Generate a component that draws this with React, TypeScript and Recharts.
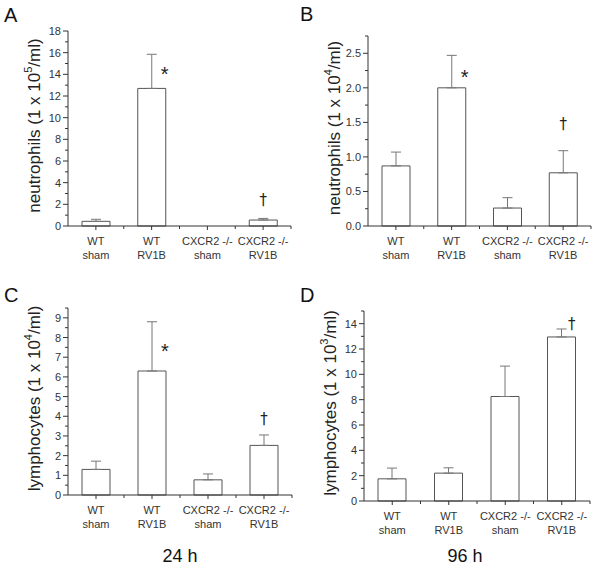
import { ComposedChart, Bar, XAxis, YAxis, ErrorBar, Scatter } from "recharts";

const GROUPS = ["WT|sham", "WT|RV1B", "CXCR2 -/-|sham", "CXCR2 -/-|RV1B"];

// A - neutrophils, 24 h (1 x 10^5/ml)
const NEUT24_MEAN = [0.43, 12.7, 0, 0.55];
const NEUT24_TOP = [0.62, 15.85, 0, 0.7];
const NEUT24_MARK = ["", "*", "", "†"];
const NEUT24_MARK_Y = [null, 14.4, null, 2.4];
const NEUT24_TICKS = [0, 2, 4, 6, 8, 10, 12, 14, 16, 18];
const NEUT24_MINOR = [1, 3, 5, 7, 9, 11, 13, 15, 17];

// B - neutrophils, 96 h (1 x 10^4/ml)
const NEUT96_MEAN = [0.87, 2.0, 0.26, 0.77];
const NEUT96_TOP = [1.07, 2.47, 0.41, 1.09];
const NEUT96_MARK = ["", "*", "", "†"];
const NEUT96_MARK_Y = [null, 2.21, null, 1.47];
const NEUT96_TICKS = [0, 0.5, 1.0, 1.5, 2.0, 2.5];
const NEUT96_MINOR = [0.25, 0.75, 1.25, 1.75, 2.25, 2.75];

// C - lymphocytes, 24 h (1 x 10^4/ml)
const LYMPH24_MEAN = [1.3, 6.3, 0.77, 2.52];
const LYMPH24_TOP = [1.72, 8.8, 1.07, 3.05];
const LYMPH24_MARK = ["", "*", "", "†"];
const LYMPH24_MARK_Y = [null, 7.5, null, 3.85];
const LYMPH24_TICKS = [0, 1, 2, 3, 4, 5, 6, 7, 8, 9];
const LYMPH24_MINOR = [0.5, 1.5, 2.5, 3.5, 4.5, 5.5, 6.5, 7.5, 8.5, 9.5];

// D - lymphocytes, 96 h (1 x 10^3/ml)
const LYMPH96_MEAN = [1.75, 2.2, 8.25, 12.95];
const LYMPH96_TOP = [2.6, 2.62, 10.65, 13.58];
const LYMPH96_MARK = ["", "", "", "†"];
const LYMPH96_MARK_Y = [null, null, null, 14.0];
const LYMPH96_TICKS = [0, 2, 4, 6, 8, 10, 12, 14];
const LYMPH96_MINOR = [1, 3, 5, 7, 9, 11, 13, 15];

const FONT = "Arial, 'Liberation Sans', Helvetica, sans-serif";
const AXIS = "#333";
const BAR_STROKE = "#555";
const ERR_STROKE = "#777";

function buildRows(mean: number[], top: number[], mark: string[], markY: (number | null)[]) {
  return GROUPS.map((g, i) => ({
    group: g,
    mean: mean[i],
    err: [0, top[i] - mean[i]],
    mark: mark[i],
    markY: markY[i],
  }));
}

const panels = [
  {
    letter: "A", left: 0, top: 0, h: 290, plot: { l: 68, r: 291, t: 31, b: 226 },
    domain: [0, 18], ticks: NEUT24_TICKS, minor: NEUT24_MINOR, fmt: (v: number) => String(v),
    label: "neutrophils (1 x 10", sup: "5", rows: buildRows(NEUT24_MEAN, NEUT24_TOP, NEUT24_MARK, NEUT24_MARK_Y), daggerDx: 0,
  },
  {
    letter: "B", left: 300, top: 0, h: 290, plot: { l: 68, r: 291, t: 36, b: 226 },
    domain: [0, 2.75], ticks: NEUT96_TICKS, minor: NEUT96_MINOR, fmt: (v: number) => v.toFixed(1),
    label: "neutrophils (1 x 10", sup: "4", rows: buildRows(NEUT96_MEAN, NEUT96_TOP, NEUT96_MARK, NEUT96_MARK_Y), daggerDx: 0,
  },
  {
    letter: "C", left: 0, top: 290, h: 279, plot: { l: 68, r: 292, t: 18, b: 205 },
    domain: [0, 9.5], ticks: LYMPH24_TICKS, minor: LYMPH24_MINOR, fmt: (v: number) => String(v),
    label: "lymphocytes (1 x 10", sup: "4", rows: buildRows(LYMPH24_MEAN, LYMPH24_TOP, LYMPH24_MARK, LYMPH24_MARK_Y), daggerDx: 0,
  },
  {
    letter: "D", left: 300, top: 290, h: 279, plot: { l: 64, r: 290, t: 21, b: 211 },
    domain: [0, 15], ticks: LYMPH96_TICKS, minor: LYMPH96_MINOR, fmt: (v: number) => String(v),
    label: "lymphocytes (1 x 10", sup: "3", rows: buildRows(LYMPH96_MEAN, LYMPH96_TOP, LYMPH96_MARK, LYMPH96_MARK_Y), daggerDx: 10,
  },
];

const XTick = (props: any) => {
  const { x, y, payload, bw } = props;
  const [l1, l2] = String(payload.value).split("|");
  return (
    <g>
      <line x1={x} x2={x} y1={y} y2={y + 4} stroke={AXIS} />
      <line x1={x + bw / 2} x2={x + bw / 2} y1={y} y2={y + 3} stroke={AXIS} />
      <text x={x} y={y + 19} textAnchor="middle" fontSize={11} fill="#333" fontFamily={FONT}>
        <tspan x={x}>{l1}</tspan>
        <tspan x={x} dy={14}>{l2}</tspan>
      </text>
    </g>
  );
};

const YTick = (props: any) => {
  const { x, y, payload, majors, fmt } = props;
  const isMajor = majors.includes(payload.value);
  return (
    <g>
      <line x1={x - (isMajor ? 5 : 3)} x2={x} y1={y} y2={y} stroke={AXIS} />
      {isMajor && (
        <text x={x - 7} y={y + 4} textAnchor="end" fontSize={11} fill="#333" fontFamily={FONT}>
          {fmt(payload.value)}
        </text>
      )}
    </g>
  );
};

const MarkShape = (props: any) => {
  const { cx, cy, payload, daggerDx } = props;
  if (!payload || !payload.mark || cy == null || isNaN(cy)) return <g />;
  if (payload.mark === "*") {
    return (
      <text x={cx + 13} y={cy + 11} textAnchor="middle" fontSize={20} fill="#222" fontFamily={FONT}>
        *
      </text>
    );
  }
  return (
    <text x={cx + daggerDx} y={cy + 5} textAnchor="middle" fontSize={15} fill="#222" fontFamily="'DejaVu Sans', sans-serif">
      †
    </text>
  );
};

function Panel({ p }: { p: (typeof panels)[number] }) {
  const W = 300;
  const yAxisW = 30;
  const xAxisH = 40;
  const bw = (p.plot.r - p.plot.l) / GROUPS.length;
  const allTicks = [...p.ticks, ...p.minor].sort((a, b) => a - b);
  return (
    <div style={{ position: "absolute", left: p.left, top: p.top, width: W, height: p.h }}>
      <ComposedChart
        width={W}
        height={p.h}
        data={p.rows}
        margin={{ top: p.plot.t, right: W - p.plot.r, bottom: p.h - p.plot.b - xAxisH, left: p.plot.l - yAxisW }}
      >
        <XAxis
          dataKey="group"
          height={xAxisH}
          tickSize={0}
          tickMargin={0}
          tickLine={false}
          interval={0}
          stroke={AXIS}
          tick={(t: any) => <XTick {...t} bw={bw} />}
        />
        <YAxis
          width={yAxisW}
          type="number"
          domain={p.domain}
          ticks={allTicks}
          interval={0}
          tickSize={0}
          tickMargin={0}
          tickLine={false}
          stroke={AXIS}
          tick={(t: any) => <YTick {...t} majors={p.ticks} fmt={p.fmt} />}
          label={{
            content: (lp: any) => {
              const vb = lp.viewBox || {};
              const cx = vb.x + vb.width - 28;
              const cy = vb.y + vb.height / 2 - 3;
              return (
                <text
                  x={cx}
                  y={cy}
                  transform={`rotate(-90, ${cx}, ${cy})`}
                  textAnchor="middle"
                  fontSize={17}
                  fill="#222"
                  fontFamily={FONT}
                >
                  {p.label}
                  <tspan dy={-8} fontSize={11}>{p.sup}</tspan>
                  <tspan dy={8}>/ml)</tspan>
                </text>
              );
            },
          }}
        />
        <Bar dataKey="mean" fill="#fff" stroke={BAR_STROKE} strokeWidth={1} barSize={Math.round(bw / 2)} isAnimationActive={false}>
          <ErrorBar dataKey="err" width={5} stroke={ERR_STROKE} strokeWidth={1} direction="y" isAnimationActive={false} />
        </Bar>
        <Scatter
          dataKey="markY"
          isAnimationActive={false}
          shape={(s: any) => <MarkShape {...s} daggerDx={p.daggerDx} />}
        />
      </ComposedChart>
    </div>
  );
}

export default function App() {
  return (
    <div
      style={{
        position: "absolute",
        left: 0,
        top: 0,
        width: 600,
        height: 569,
        background: "#fff",
        fontFamily: FONT,
        overflow: "hidden",
      }}
    >
      {panels.map((p) => (
        <Panel key={p.letter} p={p} />
      ))}
      <svg width={600} height={569} style={{ position: "absolute", left: 0, top: 0, pointerEvents: "none" }}>
        <g fontFamily={FONT} fill="#111">
          <text x={4} y={22} fontSize={20}>A</text>
          <text x={300} y={21} fontSize={20}>B</text>
          <text x={4} y={302} fontSize={20}>C</text>
          <text x={300} y={302} fontSize={20}>D</text>
          <text x={180} y={562} fontSize={18} textAnchor="middle">24 h</text>
          <text x={465} y={562} fontSize={18} textAnchor="middle">96 h</text>
        </g>
      </svg>
    </div>
  );
}
